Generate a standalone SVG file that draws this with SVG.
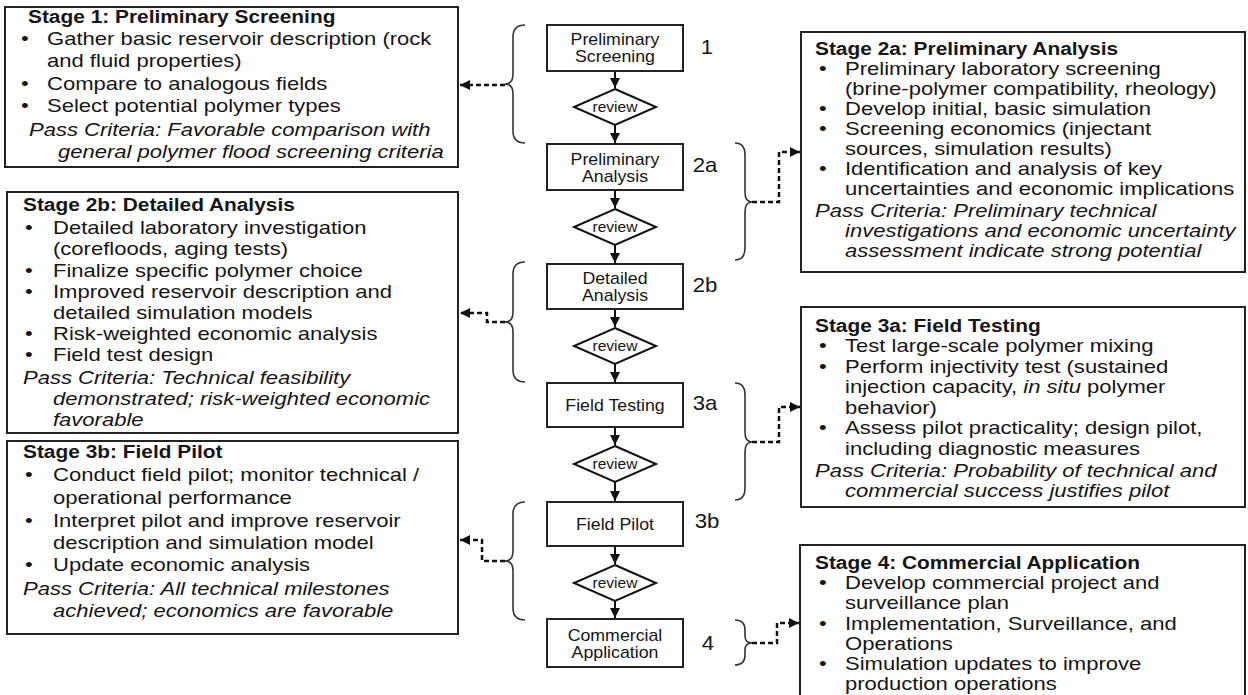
<svg xmlns="http://www.w3.org/2000/svg" width="1248" height="695" viewBox="0 0 1248 695">
<style>
.box{fill:#fff;stroke:#222;stroke-width:2}
.t{font-family:"Liberation Sans",Arial,sans-serif;font-size:19px;fill:#151515}
.h{font-weight:bold;font-size:18px}
.i{font-style:italic}
.c{font-size:16px;text-anchor:middle}
.rv{font-size:14px;text-anchor:middle}
.n{font-size:20px;text-anchor:middle}
.ar{fill:none;stroke:#111;stroke-width:2}
.br{fill:none;stroke:#333;stroke-width:1.6}
.ds{fill:none;stroke:#111;stroke-width:2.5;stroke-dasharray:5 3}
.dm{fill:#fff;stroke:#111;stroke-width:2}
</style>
<defs>
<marker id="ah" markerUnits="userSpaceOnUse" markerWidth="11" markerHeight="10" refX="10" refY="5" orient="auto">
<path d="M0,0 L10,5 L0,10 z" fill="#111"/>
</marker>
</defs>
<rect width="1248" height="695" fill="#fff"/>

<!-- connectors -->
<g id="connectors">
<path class="ar" d="M615,71 V88" marker-end="url(#ah)"/>
<path class="ar" d="M615,125 V143" marker-end="url(#ah)"/>
<path class="ar" d="M615,190 V208" marker-end="url(#ah)"/>
<path class="ar" d="M615,245 V263" marker-end="url(#ah)"/>
<path class="ar" d="M615,309 V327" marker-end="url(#ah)"/>
<path class="ar" d="M615,364 V382" marker-end="url(#ah)"/>
<path class="ar" d="M615,427 V445" marker-end="url(#ah)"/>
<path class="ar" d="M615,482 V501" marker-end="url(#ah)"/>
<path class="ar" d="M615,546 V564" marker-end="url(#ah)"/>
<path class="ar" d="M615,601 V618" marker-end="url(#ah)"/>

<path class="br" d="M525,25 Q513,25 513,37 L513,74 Q513,84 505,84 Q513,84 513,94 L513,131 Q513,143 525,143"/>
<path class="br" d="M525,262 Q513,262 513,274 L513,312 Q513,322 505,322 Q513,322 513,332 L513,370 Q513,382 525,382"/>
<path class="br" d="M525,502 Q513,502 513,514 L513,551 Q513,561 505,561 Q513,561 513,571 L513,608 Q513,620 525,620"/>

<path class="br" d="M735,143 Q745,143 745,155 L745,192 Q745,202 752,202 Q745,202 745,212 L745,248 Q745,260 735,260"/>
<path class="br" d="M735,383 Q745,383 745,395 L745,432 Q745,442 752,442 Q745,442 745,452 L745,488 Q745,500 735,500"/>
<path class="br" d="M735,620 Q745,620 745,630 L745,636 Q745,643 752,643 Q745,643 745,650 L745,655 Q745,665 735,665"/>

<path class="ds" d="M505,85 H460" marker-end="url(#ah)"/>
<path class="ds" d="M505,322 H487 V313 H460" marker-end="url(#ah)"/>
<path class="ds" d="M505,561 H482 V540 H460" marker-end="url(#ah)"/>
<path class="ds" d="M752,202 H779 V152 H800" marker-end="url(#ah)"/>
<path class="ds" d="M752,442 H779 V407 H800" marker-end="url(#ah)"/>
<path class="ds" d="M752,643 H777 V623 H799" marker-end="url(#ah)"/>
</g>

<!-- central flow nodes -->
<g id="n-screening"><rect class="box" x="547" y="25" width="136" height="46"/>
<g transform="scale(1.11,1)"><text class="t c" x="554.05" y="45">Preliminary</text><text class="t c" x="554.05" y="62">Screening</text></g></g>
<g id="n-review1"><polygon class="dm" points="615,89 656,107 615,125 574,107"/><g transform="scale(1.11,1)"><text class="t rv" x="554.05" y="112">review</text></g></g>
<g id="n-analysis"><rect class="box" x="547" y="144" width="136" height="46"/>
<g transform="scale(1.11,1)"><text class="t c" x="554.05" y="165">Preliminary</text><text class="t c" x="554.05" y="182">Analysis</text></g></g>
<g id="n-review2"><polygon class="dm" points="615,209 656,227 615,245 574,227"/><g transform="scale(1.11,1)"><text class="t rv" x="554.05" y="232">review</text></g></g>
<g id="n-detailed"><rect class="box" x="547" y="264" width="136" height="45"/>
<g transform="scale(1.11,1)"><text class="t c" x="554.05" y="284">Detailed</text><text class="t c" x="554.05" y="301">Analysis</text></g></g>
<g id="n-review3"><polygon class="dm" points="615,328 656,346 615,364 574,346"/><g transform="scale(1.11,1)"><text class="t rv" x="554.05" y="351">review</text></g></g>
<g id="n-fieldtesting"><rect class="box" x="547" y="383" width="136" height="44"/>
<g transform="scale(1.11,1)"><text class="t c" x="554.05" y="411">Field Testing</text></g></g>
<g id="n-review4"><polygon class="dm" points="615,446 656,464 615,482 574,464"/><g transform="scale(1.11,1)"><text class="t rv" x="554.05" y="469">review</text></g></g>
<g id="n-fieldpilot"><rect class="box" x="547" y="502" width="136" height="44"/>
<g transform="scale(1.11,1)"><text class="t c" x="554.05" y="530">Field Pilot</text></g></g>
<g id="n-review5"><polygon class="dm" points="615,565 656,583 615,601 574,583"/><g transform="scale(1.11,1)"><text class="t rv" x="554.05" y="588">review</text></g></g>
<g id="n-commercial"><rect class="box" x="547" y="619" width="136" height="48"/>
<g transform="scale(1.11,1)"><text class="t c" x="554.05" y="641">Commercial</text><text class="t c" x="554.05" y="658">Application</text></g></g>

<g id="stage-labels" transform="scale(1.11,1)">
<text class="t n" x="636.94" y="54">1</text>
<text class="t n" x="635.14" y="172">2a</text>
<text class="t n" x="635.14" y="292">2b</text>
<text class="t n" x="635.14" y="410">3a</text>
<text class="t n" x="636.94" y="528">3b</text>
<text class="t n" x="637.84" y="650">4</text>
</g>

<!-- Stage 1 -->
<g id="stage1"><rect class="box" x="5" y="7" width="453" height="160"/>
<g transform="scale(1.16,1)">
<text class="t h" x="24.14" y="23">Stage 1: Preliminary Screening</text>
<text class="t" x="18.10" y="45">•</text><text class="t" x="40.52" y="45">Gather basic reservoir description (rock</text>
<text class="t" x="40.52" y="67">and fluid properties)</text>
<text class="t" x="18.10" y="90">•</text><text class="t" x="40.52" y="90">Compare to analogous fields</text>
<text class="t" x="18.10" y="112">•</text><text class="t" x="40.52" y="112">Select potential polymer types</text>
<text class="t i" x="25.0" y="136">Pass Criteria: Favorable comparison with</text>
<text class="t i" x="50.0" y="158">general polymer flood screening criteria</text>
</g></g>

<!-- Stage 2a -->
<g id="stage2a"><rect class="box" x="801" y="32" width="444" height="240"/>
<g transform="scale(1.16,1)">
<text class="t h" x="702.59" y="55">Stage 2a: Preliminary Analysis</text>
<text class="t" x="706.03" y="75">•</text><text class="t" x="728.45" y="75">Preliminary laboratory screening</text>
<text class="t" x="728.45" y="95">(brine-polymer compatibility, rheology)</text>
<text class="t" x="706.03" y="115">•</text><text class="t" x="728.45" y="115">Develop initial, basic simulation</text>
<text class="t" x="706.03" y="135">•</text><text class="t" x="728.45" y="135">Screening economics (injectant</text>
<text class="t" x="728.45" y="155">sources, simulation results)</text>
<text class="t" x="706.03" y="175">•</text><text class="t" x="728.45" y="175">Identification and analysis of key</text>
<text class="t" x="728.45" y="195">uncertainties and economic implications</text>
<text class="t i" x="702.59" y="217">Pass Criteria: Preliminary technical</text>
<text class="t i" x="728.45" y="237">investigations and economic uncertainty</text>
<text class="t i" x="728.45" y="257">assessment indicate strong potential</text>
</g></g>

<!-- Stage 2b -->
<g id="stage2b"><rect class="box" x="7" y="192" width="451" height="241"/>
<g transform="scale(1.16,1)">
<text class="t h" x="19.83" y="211">Stage 2b: Detailed Analysis</text>
<text class="t" x="21.55" y="234">•</text><text class="t" x="45.69" y="234">Detailed laboratory investigation</text>
<text class="t" x="45.69" y="255">(corefloods, aging tests)</text>
<text class="t" x="21.55" y="277">•</text><text class="t" x="45.69" y="277">Finalize specific polymer choice</text>
<text class="t" x="21.55" y="298">•</text><text class="t" x="45.69" y="298">Improved reservoir description and</text>
<text class="t" x="45.69" y="319">detailed simulation models</text>
<text class="t" x="21.55" y="340">•</text><text class="t" x="45.69" y="340">Risk-weighted economic analysis</text>
<text class="t" x="21.55" y="361">•</text><text class="t" x="45.69" y="361">Field test design</text>
<text class="t i" x="19.83" y="384">Pass Criteria: Technical feasibility</text>
<text class="t i" x="45.69" y="405">demonstrated; risk-weighted economic</text>
<text class="t i" x="45.69" y="426">favorable</text>
</g></g>

<!-- Stage 3a -->
<g id="stage3a"><rect class="box" x="801" y="307" width="444" height="200"/>
<g transform="scale(1.16,1)">
<text class="t h" x="702.59" y="332">Stage 3a: Field Testing</text>
<text class="t" x="706.03" y="352">•</text><text class="t" x="728.45" y="352">Test large-scale polymer mixing</text>
<text class="t" x="706.03" y="373">•</text><text class="t" x="728.45" y="373">Perform injectivity test (sustained</text>
<text class="t" x="728.45" y="393">injection capacity, <tspan class="i">in situ</tspan> polymer</text>
<text class="t" x="728.45" y="414">behavior)</text>
<text class="t" x="706.03" y="434">•</text><text class="t" x="728.45" y="434">Assess pilot practicality; design pilot,</text>
<text class="t" x="728.45" y="455">including diagnostic measures</text>
<text class="t i" x="702.59" y="477">Pass Criteria: Probability of technical and</text>
<text class="t i" x="728.45" y="497">commercial success justifies pilot</text>
</g></g>

<!-- Stage 3b -->
<g id="stage3b"><rect class="box" x="7" y="441" width="451" height="193"/>
<g transform="scale(1.16,1)">
<text class="t h" x="19.83" y="458">Stage 3b: Field Pilot</text>
<text class="t" x="21.55" y="481">•</text><text class="t" x="45.69" y="481">Conduct field pilot; monitor technical /</text>
<text class="t" x="45.69" y="504">operational performance</text>
<text class="t" x="21.55" y="527">•</text><text class="t" x="45.69" y="527">Interpret pilot and improve reservoir</text>
<text class="t" x="45.69" y="549">description and simulation model</text>
<text class="t" x="21.55" y="571">•</text><text class="t" x="45.69" y="571">Update economic analysis</text>
<text class="t i" x="19.83" y="595">Pass Criteria: All technical milestones</text>
<text class="t i" x="45.69" y="617">achieved; economics are favorable</text>
</g></g>

<!-- Stage 4 -->
<g id="stage4"><rect class="box" x="800" y="545" width="445" height="160"/>
<g transform="scale(1.16,1)">
<text class="t h" x="702.59" y="569">Stage 4: Commercial Application</text>
<text class="t" x="706.03" y="589">•</text><text class="t" x="728.45" y="589">Develop commercial project and</text>
<text class="t" x="728.45" y="609">surveillance plan</text>
<text class="t" x="706.03" y="630">•</text><text class="t" x="728.45" y="630">Implementation, Surveillance, and</text>
<text class="t" x="728.45" y="650">Operations</text>
<text class="t" x="706.03" y="670">•</text><text class="t" x="728.45" y="670">Simulation updates to improve</text>
<text class="t" x="728.45" y="690">production operations</text>
</g></g>
</svg>
